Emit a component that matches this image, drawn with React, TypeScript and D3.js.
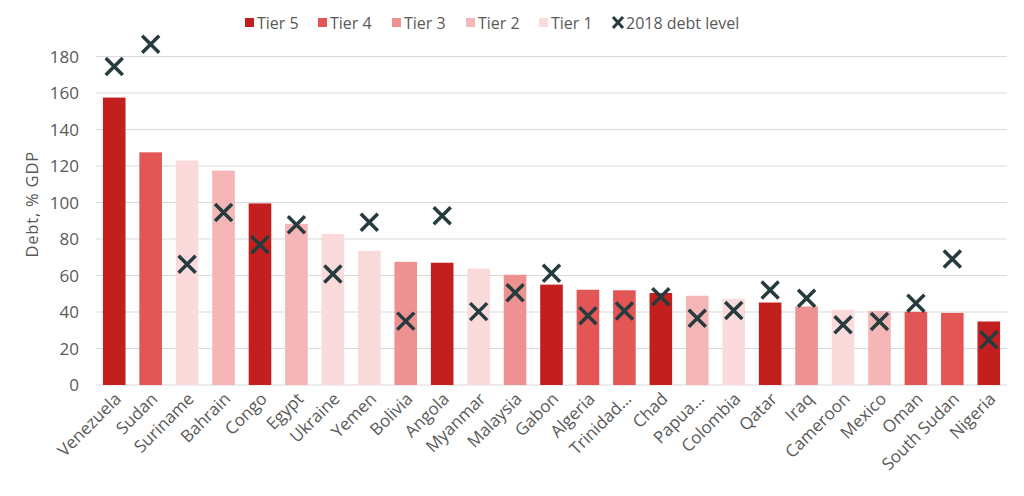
import * as d3 from 'd3';

// Debt by country, % of GDP
const countries = ['Venezuela', 'Sudan', 'Suriname', 'Bahrain', 'Congo', 'Egypt', 'Ukraine', 'Yemen', 'Bolivia', 'Angola', 'Myanmar', 'Malaysia', 'Gabon', 'Algeria', 'Trinidad…', 'Chad', 'Papua…', 'Colombia', 'Qatar', 'Iraq', 'Cameroon', 'Mexico', 'Oman', 'South Sudan', 'Nigeria'];
const debtNow = [157.5, 127.5, 123, 117.5, 99.5, 88.3, 82.8, 73.5, 67.5, 67, 63.8, 60.4, 55, 52.2, 51.9, 50.4, 48.9, 47.2, 45.2, 43, 41.2, 40.6, 40.1, 39.5, 34.8];
const debt2018 = [174.5, 186.7, 66.2, 94.5, 76.8, 87.8, 60.8, 89.2, 35, 92.7, 40.2, 50.6, 61.2, 37.9, 40.5, 48.4, 36.6, 40.8, 52, 47.5, 33, 34.8, 44.8, 69, 24.8];
const tiers = [5, 4, 1, 2, 5, 2, 1, 1, 3, 5, 1, 3, 5, 4, 4, 5, 2, 1, 5, 3, 1, 2, 4, 4, 5];
const yTicks = [0, 20, 40, 60, 80, 100, 120, 140, 160, 180];
const legendTiers = [5, 4, 3, 2, 1];

const tierColor: any = { 5: '#C21F1F', 4: '#E35656', 3: '#EE9191', 2: '#F4B6B6', 1: '#FADADA' };
const markColor = '#263B3D';
const textColor = '#595959';
const font = "'Open Sans', sans-serif";

const W = 1024, H = 496;
const margin = { top: 0, left: 96, right: 17, bottom: 111 };

export default function App() {
  const x = d3.scaleBand<string>()
    .domain(countries)
    .range([margin.left, W - margin.right])
    .paddingInner(0.38)
    .paddingOuter(0.19);
  const y = d3.scaleLinear().domain([0, 180]).range([H - margin.bottom, 56.5]);
  const bw = x.bandwidth();
  const xs = 8.5; // half size of the cross marker

  const legendX = [245, 318, 392, 466, 539];

  return (
    <svg width={W} height={H} style={{ position: 'absolute', left: 0, top: 0, fontFamily: font }}>
      {/* gridlines */}
      {yTicks.map(t => (
        <line key={t} x1={margin.left} x2={W - margin.right} y1={y(t)} y2={y(t)} stroke="#D9D9D9" strokeWidth={1} />
      ))}
      {yTicks.map(t => (
        <text key={'l' + t} x={79} y={y(t)} dy="0.36em" textAnchor="end" fontSize={17} fill={textColor}>{t}</text>
      ))}
      <text transform={`translate(38,${y(99)}) rotate(-90)`} textAnchor="middle" fontSize={16.5} letterSpacing={0.8} fill={textColor}>Debt, % GDP</text>

      {/* bars */}
      {countries.map((c, i) => (
        <rect key={c} x={x(c)} y={y(debtNow[i])} width={bw} height={y(0) - y(debtNow[i])} fill={tierColor[tiers[i]]} />
      ))}

      {/* 2018 markers */}
      {countries.map((c, i) => {
        const cx = (x(c) as number) + bw / 2;
        const cy = y(debt2018[i]);
        return (
          <path key={'m' + c} d={`M${cx - xs},${cy - xs}L${cx + xs},${cy + xs}M${cx - xs},${cy + xs}L${cx + xs},${cy - xs}`}
            stroke={markColor} strokeWidth={3.5} />
        );
      })}

      {/* x labels */}
      {countries.map(c => {
        const cx = (x(c) as number) + bw / 2 + 8;
        return (
          <text key={'x' + c} transform={`translate(${cx},${y(0) + 15}) rotate(-45)`} textAnchor="end" fontSize={17} fill={textColor}>{c}</text>
        );
      })}

      {/* legend */}
      {legendTiers.map((t, i) => (
        <g key={'lg' + t}>
          <rect x={legendX[i]} y={18} width={9} height={9} fill={tierColor[t]} />
          <text x={legendX[i] + 12} y={23} dy="0.36em" fontSize={16} fill={textColor}>Tier {t}</text>
        </g>
      ))}
      <path d="M613,17L623,28M613,28L623,17" stroke={markColor} strokeWidth={3} />
      <text x={626} y={23} dy="0.36em" fontSize={16} fill={textColor}>2018 debt level</text>
    </svg>
  );
}
